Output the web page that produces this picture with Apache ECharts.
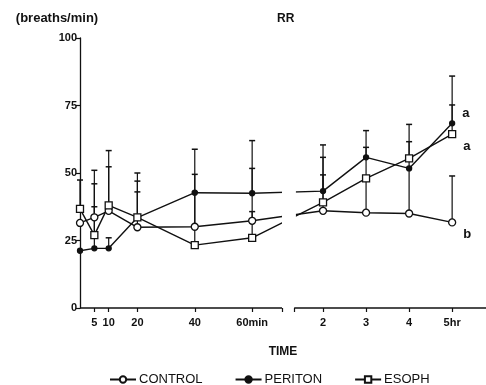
<!DOCTYPE html>
<html>
<head>
<meta charset="utf-8">
<script src="https://cdn.jsdelivr.net/npm/echarts@6/dist/echarts.min.js"></script>
<style>
  html, body { margin: 0; padding: 0; background: #fff; }
  #chart { width: 486px; height: 385px; }
</style>
</head>
<body>
<div id="chart"></div>
<script>
// Respiratory rate (breaths/min) over time, three groups, mean with upward SD bars.
const MINUTES = [0, 5, 10, 20, 40, 60];
const HOURS = [2, 3, 4, 5];

const CONTROL = [31.5, 33.6, 36.0, 29.9, 30.1, 32.3, 36.0, 35.3, 35.0, 31.7];
const PERITON = [21.2, 22.1, 22.1, 33.5, 42.7, 42.5, 43.3, 55.8, 51.7, 68.4];
const ESOPH   = [36.7, 27.0, 38.0, 33.6, 23.3, 26.0, 39.1, 48.0, 55.4, 64.4];

// upper end of each SD bar (null = no bar drawn)
const CONTROL_UPPER = [null, 46.0, 52.3, 47.0, 49.5, 51.7, 49.3, 48.0, 52.0, 48.9];
const PERITON_UPPER = [null, 37.5, 26.0, 43.0, 58.8, 62.0, 60.4, 65.7, 61.6, 85.9];
const ESOPH_UPPER   = [47.4, 51.0, 58.3, 50.0, 43.0, 35.7, 55.8, 59.5, 68.0, 75.2];

// significance letters at the final time point
const SIG_LETTERS = { CONTROL: 'b', PERITON: 'a', ESOPH: 'a' };

const X_TICK_MINUTES = [5, 10, 20, 40, 60];
const X_TICK_HOURS = [2, 3, 4, 5];
const X_TICK_LABELS = ['5', '10', '20', '40', '60min', '2', '3', '4', '5hr'];
const Y_TICKS = [0, 25, 50, 75, 100];

// Broken time axis: minutes on the left part, hours on the right part.
const MIN_END = 70.4;          // where the minute segment stops
const HOUR_AXIS_START = 1.33;  // where the hour segment resumes
const HOUR_TRACE_START = 1.37; // where the traces resume after the break
const HOUR_ORIGIN = 84.7;      // axis position of 2 hr
const HOUR_UNITS = 15;         // axis units per hour
const X_MAX = 141.5;

const minutePos = m => m;
const hourPos = h => HOUR_ORIGIN + (h - 2) * HOUR_UNITS;
const xPos = MINUTES.map(minutePos).concat(HOURS.map(hourPos));
const tickPos = X_TICK_MINUTES.map(minutePos).concat(X_TICK_HOURS.map(hourPos));

const INK = '#111';
const FONT = '"Liberation Sans", Arial, Helvetica, sans-serif';

function lineData(values, name) {
  return xPos.map((x, i) => {
    const item = { value: [x, values[i]] };
    if (i === xPos.length - 1) {
      item.label = {
        show: true,
        formatter: SIG_LETTERS[name],
        position: 'right',
        fontFamily: FONT, fontWeight: 'bold', fontSize: 13, color: INK,
        offset: name === 'PERITON' ? [2, -10] : [2, 12]
      };
    }
    return item;
  });
}

function errData(values, upper) {
  const out = [];
  xPos.forEach((x, i) => { if (upper[i] != null) out.push([x, values[i], upper[i]]); });
  return out;
}

function renderErr(params, api) {
  const base = api.coord([api.value(0), api.value(1)]);
  const top = api.coord([api.value(0), api.value(2)]);
  return {
    type: 'group',
    children: [
      { type: 'line', shape: { x1: base[0], y1: base[1], x2: top[0], y2: top[1] },
        style: { stroke: INK, lineWidth: 1.2 } },
      { type: 'line', shape: { x1: top[0] - 3, y1: top[1], x2: top[0] + 3, y2: top[1] },
        style: { stroke: INK, lineWidth: 1.5 } }
    ]
  };
}

// white band that interrupts the traces at the axis break, plus the two axis pieces
function renderBreak(params, api) {
  const a = api.coord([MIN_END, 100]);
  const b = api.coord([hourPos(HOUR_TRACE_START), 0.8]);
  const y0a = api.coord([0, 0]);
  const y0b = api.coord([MIN_END, 0]);
  const y0c = api.coord([hourPos(HOUR_AXIS_START), 0]);
  const y0d = api.coord([X_MAX, 0]);
  return {
    type: 'group',
    children: [
      { type: 'rect', shape: { x: a[0], y: a[1], width: b[0] - a[0], height: b[1] - a[1] },
        style: { fill: '#fff' } },
      { type: 'line', shape: { x1: y0a[0], y1: y0a[1], x2: y0b[0], y2: y0b[1] },
        style: { stroke: INK, lineWidth: 1.3 } },
      { type: 'line', shape: { x1: y0c[0], y1: y0c[1], x2: y0d[0], y2: y0d[1] },
        style: { stroke: INK, lineWidth: 1.3 } }
    ]
  };
}

const groups = [
  { name: 'CONTROL', values: CONTROL, upper: CONTROL_UPPER, symbol: 'circle', size: 7, fill: '#fff' },
  { name: 'PERITON', values: PERITON, upper: PERITON_UPPER, symbol: 'circle', size: 5, fill: INK },
  { name: 'ESOPH',   values: ESOPH,   upper: ESOPH_UPPER,   symbol: 'rect',   size: 7, fill: '#fff' }
];

const series = [];
groups.forEach(g => {
  series.push({
    name: g.name + ' SD',
    type: 'custom',
    renderItem: renderErr,
    encode: { x: 0, y: [1, 2] },
    data: errData(g.values, g.upper),
    z: 1,
    silent: true
  });
});
groups.forEach(g => {
  series.push({
    name: g.name,
    type: 'line',
    data: lineData(g.values, g.name),
    symbol: g.symbol,
    symbolSize: g.size,
    showAllSymbol: true,
    lineStyle: { color: INK, width: 1.4 },
    itemStyle: { color: g.fill, borderColor: INK, borderWidth: 1.3 },
    z: 2,
    animation: false
  });
});
series.push({
  name: 'axis-break',
  type: 'custom',
  renderItem: renderBreak,
  encode: { x: 0, y: 1 },
  data: [[0, 0]],
  clip: false,
  silent: true,
  z: 5
});

const chart = echarts.init(document.getElementById('chart'), null, { renderer: 'canvas' });
chart.setOption({
  animation: false,
  backgroundColor: '#fff',
  textStyle: { fontFamily: FONT, color: INK },
  title: {
    text: 'RR',
    left: 272, top: 8,
    textStyle: { fontFamily: FONT, fontWeight: 'bold', fontSize: 12, color: INK }
  },
  grid: { left: 80, right: 0, top: 38, bottom: 77 },
  legend: {
    data: ['CONTROL', 'PERITON', 'ESOPH'],
    left: 104, top: 368,
    itemWidth: 26, itemHeight: 8, itemGap: 32,
    textStyle: { fontFamily: FONT, fontSize: 13, color: INK, padding: [0, 0, 0, -2] }
  },
  xAxis: {
    type: 'value',
    min: 0, max: X_MAX,
    name: 'TIME',
    nameLocation: 'middle',
    nameGap: 38,
    nameTextStyle: { fontFamily: FONT, fontWeight: 'bold', fontSize: 12, color: INK },
    axisLine: { show: false },
    splitLine: { show: false },
    axisTick: {
      show: true, length: 4,
      customValues: tickPos.concat([MIN_END, hourPos(HOUR_AXIS_START)]),
      lineStyle: { color: INK, width: 1.2 }
    },
    axisLabel: {
      customValues: tickPos,
      margin: 9,
      fontFamily: FONT, fontWeight: 'bold', fontSize: 11, color: INK,
      formatter: v => {
        const i = tickPos.findIndex(p => Math.abs(p - v) < 1e-6);
        return i >= 0 ? X_TICK_LABELS[i] : '';
      }
    }
  },
  yAxis: {
    type: 'value',
    min: 0, max: 100, interval: 25,
    name: '(breaths/min)',
    nameLocation: 'end',
    nameGap: 20,
    nameTextStyle: {
      fontFamily: FONT, fontWeight: 'bold', fontSize: 13, color: INK,
      align: 'center', verticalAlign: 'middle', padding: [0, 46, 0, 0]
    },
    axisLine: { show: true, lineStyle: { color: INK, width: 1.3 } },
    axisTick: { show: true, length: 4, lineStyle: { color: INK, width: 1.2 } },
    splitLine: { show: false },
    axisLabel: {
      margin: 3,
      fontFamily: FONT, fontWeight: 'bold', fontSize: 11, color: INK,
      formatter: v => Y_TICKS.includes(v) ? String(v) : ''
    }
  },
  series: series
});
</script>
</body>
</html>
